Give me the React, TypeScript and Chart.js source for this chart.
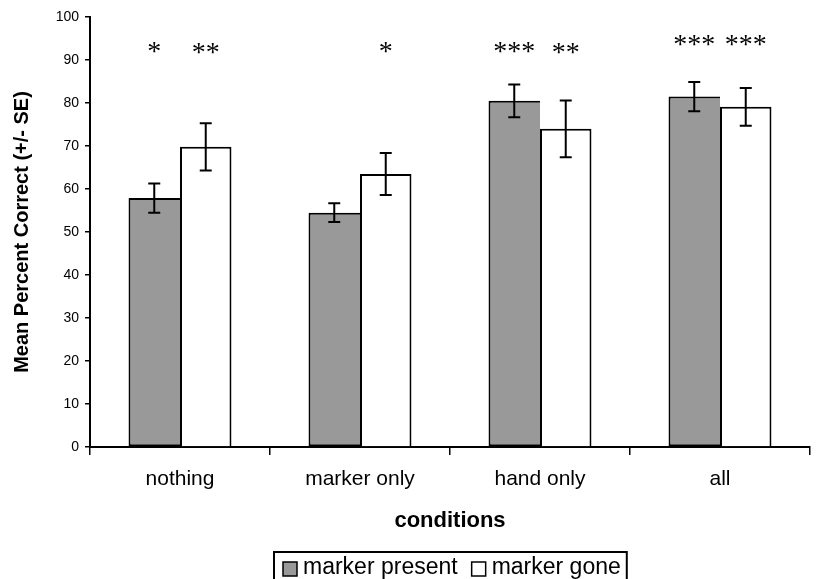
import React, { useEffect, useRef } from "react";
import { Chart, registerables } from "chart.js";

Chart.register(...registerables);

const categories = ["nothing", "marker only", "hand only", "all"];
const seriesNames = ["marker present", "marker gone"];
const presentValues = [57.9, 54.5, 80.5, 81.5];
const presentSE = [3.4, 2.2, 3.8, 3.4];
const goneValues = [69.8, 63.5, 74.0, 79.1];
const goneSE = [5.5, 4.9, 6.6, 4.4];
const presentStars = ["*", "", "***", "***"];
const goneStars = ["**", "*", "**", "***"];
const presentStarY = [93.3, 0, 93.3, 94.8];
const goneStarY = [93.1, 93.3, 93.0, 94.8];
const yTicks = [0, 10, 20, 30, 40, 50, 60, 70, 80, 90, 100];

const seriesSE = [presentSE, goneSE];
const seriesStars = [presentStars, goneStars];
const seriesStarY = [presentStarY, goneStarY];
const fills = ["#999999", "#ffffff"];

const overlayPlugin = {
  id: "overlay",
  afterDatasetsDraw(chart: any) {
    const ctx = chart.ctx;
    const y = chart.scales.y;
    ctx.save();
    // error bars
    ctx.strokeStyle = "#000";
    ctx.lineWidth = 2;
    for (let d = 0; d < chart.data.datasets.length; d++) {
      const meta = chart.getDatasetMeta(d);
      const vals = chart.data.datasets[d].data as number[];
      meta.data.forEach((bar: any, i: number) => {
        const se = seriesSE[d][i];
        const top = y.getPixelForValue(vals[i] + se);
        const bot = y.getPixelForValue(vals[i] - se);
        const x = bar.x;
        const cw = 6;
        ctx.beginPath();
        ctx.moveTo(x, top);
        ctx.lineTo(x, bot);
        ctx.moveTo(x - cw, top);
        ctx.lineTo(x + cw, top);
        ctx.moveTo(x - cw, bot);
        ctx.lineTo(x + cw, bot);
        ctx.stroke();
      });
    }
    // significance stars
    const size = 28;
    ctx.fillStyle = "#000";
    ctx.font = `${size}px "Liberation Serif", "Times New Roman", serif`;
    ctx.textAlign = "center";
    ctx.textBaseline = "alphabetic";
    for (let d = 0; d < chart.data.datasets.length; d++) {
      const meta = chart.getDatasetMeta(d);
      meta.data.forEach((bar: any, i: number) => {
        const s = seriesStars[d][i];
        if (!s) return;
        const cy = y.getPixelForValue(seriesStarY[d][i]);
        ctx.fillText(s, bar.x, cy + size * 0.5);
      });
    }
    ctx.restore();
  },
  afterDraw(chart: any) {
    // legend box
    const ctx = chart.ctx;
    const area = chart.chartArea;
    ctx.save();
    ctx.font = `23px "Liberation Sans", Arial, sans-serif`;
    const sq = 14;
    const gapSqText = 6;
    const gapItems = 14;
    const padL = 9;
    const padR = 6;
    const widths = seriesNames.map((n) => ctx.measureText(n).width);
    let total = padL + padR;
    widths.forEach((w, i) => {
      total += sq + gapSqText + w + (i < widths.length - 1 ? gapItems : 0);
    });
    const cx = (area.left + area.right) / 2;
    const left = Math.round(cx - total / 2);
    const top = area.bottom + 105;
    const midY = top + 16;
    ctx.strokeStyle = "#000";
    ctx.lineWidth = 2;
    ctx.strokeRect(left, top, total, 60);
    let x = left + padL;
    ctx.textBaseline = "middle";
    ctx.textAlign = "left";
    seriesNames.forEach((n, i) => {
      ctx.fillStyle = fills[i];
      ctx.fillRect(x, midY - sq / 2 + 1, sq, sq);
      ctx.lineWidth = 1.5;
      ctx.strokeRect(x, midY - sq / 2 + 1, sq, sq);
      x += sq + gapSqText;
      ctx.fillStyle = "#000";
      ctx.fillText(n, x, midY);
      x += widths[i] + gapItems;
    });
    ctx.restore();
  },
};

export default function App() {
  const ref = useRef<HTMLCanvasElement>(null);
  useEffect(() => {
    document.body.style.margin = "0";
    Chart.defaults.font.family = '"Liberation Sans", Arial, sans-serif';
    Chart.defaults.color = "#000";
    const chart = new Chart(ref.current as HTMLCanvasElement, {
      type: "bar",
      data: {
        labels: categories,
        datasets: [
          {
            label: seriesNames[0],
            data: presentValues,
            backgroundColor: fills[0],
            borderColor: "#000",
            borderWidth: 2,
            borderSkipped: "right",
            categoryPercentage: 0.572,
            barPercentage: 1,
          },
          {
            label: seriesNames[1],
            data: goneValues,
            backgroundColor: fills[1],
            borderColor: "#000",
            borderWidth: 2,
            categoryPercentage: 0.572,
            barPercentage: 1,
          },
        ],
      },
      options: {
        animation: false,
        responsive: false,
        layout: { padding: { top: 17, right: 6, bottom: 45, left: 0 } },
        plugins: { legend: { display: false }, tooltip: { enabled: false } },
        scales: {
          x: {
            afterFit: (s: any) => {
              s.height = 87;
            },
            grid: {
              offset: true,
              drawOnChartArea: false,
              drawTicks: true,
              tickLength: 8,
              color: "#000",
              lineWidth: 1.5,
            },
            border: { color: "#000", width: 2 },
            ticks: { font: { size: 21 }, padding: 12, color: "#000" },
            title: {
              display: true,
              text: "conditions",
              font: { size: 22, weight: "bold" },
              padding: { top: 0, bottom: 0 },
              color: "#000",
            },
          },
          y: {
            min: 0,
            max: 100,
            afterFit: (s: any) => {
              s.width = 90;
            },
            afterBuildTicks: (s: any) => {
              s.ticks = yTicks.map((v) => ({ value: v }));
            },
            grid: {
              drawOnChartArea: false,
              drawTicks: true,
              tickLength: 5,
              color: "#000",
              lineWidth: 1.5,
            },
            border: { color: "#000", width: 2 },
            ticks: { font: { size: 14 }, padding: 6, color: "#000" },
            title: {
              display: true,
              text: "Mean Percent Correct (+/- SE)",
              font: { size: 20, weight: "bold" },
              padding: { top: 10, bottom: 0 },
              color: "#000",
            },
          },
        },
      },
      plugins: [overlayPlugin],
    });
    return () => chart.destroy();
  }, []);
  return (
    <div style={{ width: 816, height: 579, background: "#fff" }}>
      <canvas ref={ref} width={816} height={579} />
    </div>
  );
}
